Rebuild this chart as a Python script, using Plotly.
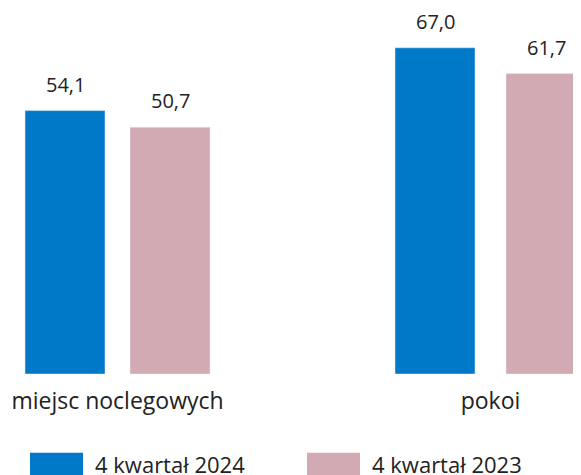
import plotly.graph_objects as go

categories = ["miejsc noclegowych", "pokoi"]
series_names = ["4 kwartał 2024", "4 kwartał 2023"]
values_2024 = [54.1, 67.0]
values_2023 = [50.7, 61.7]

BLUE = "#0079C8"
PINK = "#D2AAB4"
TEXT = "#222222"
FONT = "Open Sans"

# page has an 8px body margin, so the figure is drawn 8px smaller
W, H = 573, 467
x_pos = list(range(len(categories)))
unit = 373.0  # px per category step
bar_w = 80 / unit
off_2024 = [-92.5 / unit, -95.5 / unit]
off_2023 = [12.5 / unit, 15.5 / unit]

fig = go.Figure()
fig.add_trace(go.Bar(x=x_pos, y=values_2024, name=series_names[0], marker_color=BLUE,
                     width=bar_w, offset=off_2024))
fig.add_trace(go.Bar(x=x_pos, y=values_2023, name=series_names[1], marker_color=PINK,
                     width=bar_w, offset=off_2023))

# value labels above bars
for vals, offs in [(values_2024, off_2024), (values_2023, off_2023)]:
    for xi, v, off in zip(x_pos, vals, offs):
        fig.add_annotation(x=xi + off + bar_w / 2, y=v, xref="x", yref="y",
                           text=f"{v:.1f}".replace(".", ","), showarrow=False,
                           yanchor="bottom", yshift=11,
                           font=dict(size=20, color=TEXT, family=FONT))

# custom legend with wide swatches
plot_h = 365.7
def py(px):
    return (plot_h - px) / plot_h

for name, color, sx in [(series_names[0], BLUE, 22), (series_names[1], PINK, 299)]:
    fig.add_shape(type="rect", xref="paper", yref="paper",
                  x0=sx / W, x1=(sx + 53) / W, y0=py(475), y1=py(444.3),
                  fillcolor=color, line_width=0)
    fig.add_annotation(x=(sx + 63) / W, y=py(456), xref="paper", yref="paper",
                       text=name, showarrow=False, xanchor="left", yanchor="middle",
                       font=dict(size=22, color=TEXT, family=FONT))

fig.update_layout(
    width=W, height=H,
    margin=dict(l=0, r=0, t=0, b=H - plot_h),
    plot_bgcolor="white", paper_bgcolor="white",
    showlegend=False,
    barmode="overlay",
    font=dict(family=FONT, size=23, color=TEXT),
    xaxis=dict(range=[-109.5 / unit, (W - 109.5) / unit], tickvals=x_pos, ticktext=categories,
               showgrid=False, zeroline=False, showline=False, ticks="",
               ticklabelstandoff=11),
    yaxis=dict(range=[0, plot_h / 4.865], visible=False),
)

fig.write_html("out.html")
